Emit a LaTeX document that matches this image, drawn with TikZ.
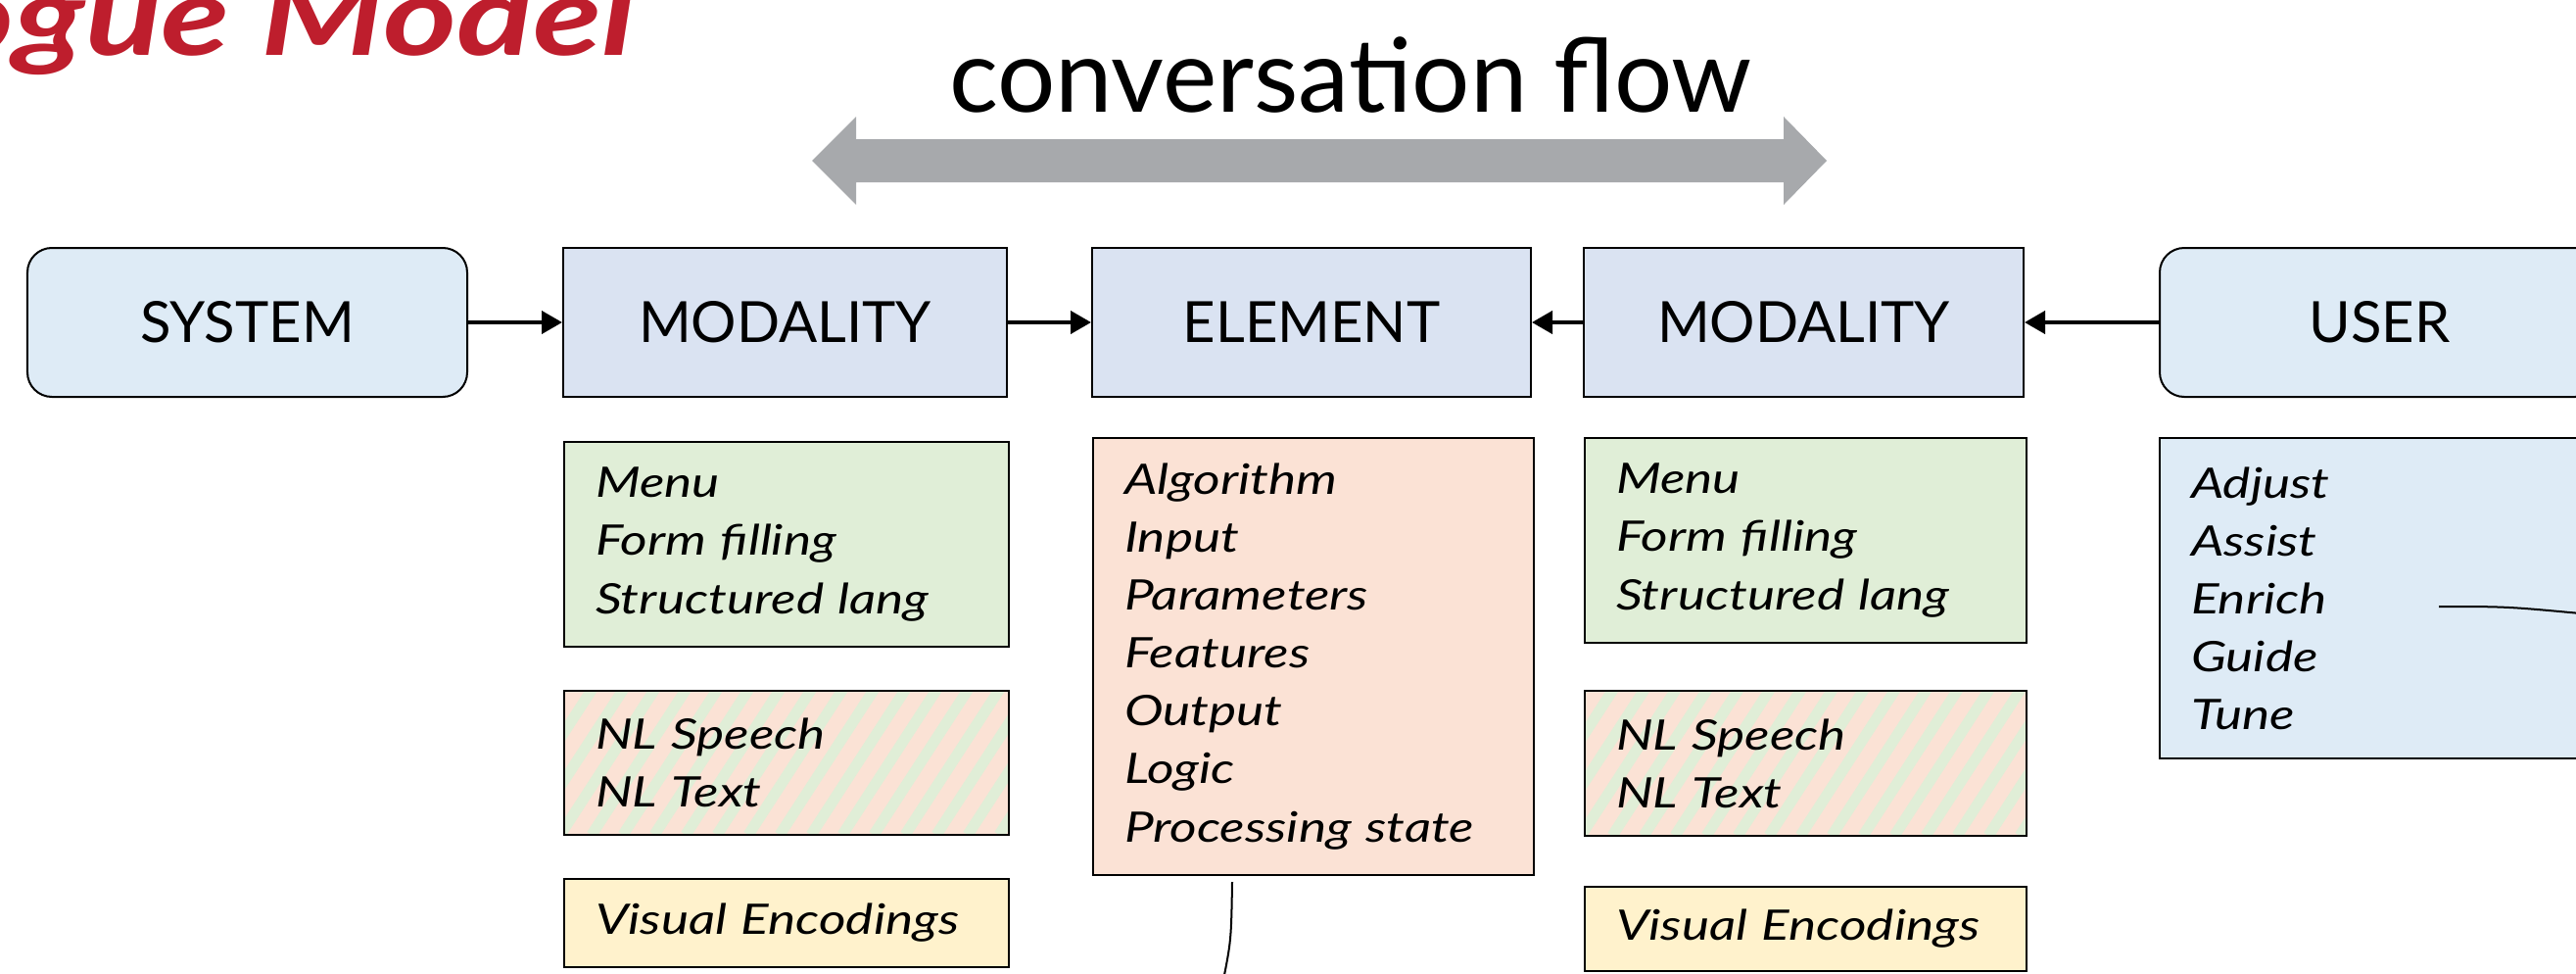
\documentclass[tikz,border=0pt]{standalone}
\usepackage{fontspec}
\setmainfont{Lato}
\newfontfamily\listfont[FakeStretch=1.24]{Lato}
\newfontfamily\titlefont[FakeStretch=1.28]{Lato}
\usetikzlibrary{arrows.meta}

\definecolor{titlered}{RGB}{190,30,45}
\definecolor{flowgray}{RGB}{167,169,172}
\definecolor{endblue}{RGB}{222,235,246}
\definecolor{modblue}{RGB}{218,227,242}
\definecolor{menugreen}{RGB}{224,238,215}
\definecolor{elemred}{RGB}{251,226,213}
\definecolor{visyellow}{RGB}{255,242,204}

\begin{document}
\begin{tikzpicture}[
  endbox/.style={draw, fill=endblue, rounded corners=0.25cm, minimum width=4.49cm, minimum height=1.52cm, inner sep=0pt, line width=0.02cm, font=\fontsize{16.5}{20}\selectfont},
  modbox/.style={draw, fill=modblue, minimum width=4.53cm, minimum height=1.52cm, inner sep=0pt, line width=0.02cm, font=\fontsize{16.5}{20}\selectfont},
  listbox/.style={draw, line width=0.025cm, inner xsep=0.32cm, inner ysep=0pt, align=left, font=\listfont\fontsize{12.2}{16.8}\selectfont\itshape},
  stripes/.style={fill=elemred, path picture={
      \foreach \k in {0,...,18}
        \draw[menugreen, line width=0.11cm] ([xshift=\k*0.32cm-1cm]path picture bounding box.south west) -- ++(57:1.9cm);
    }},
  link/.style={line width=0.04cm, -{Triangle[length=0.21cm,width=0.23cm]}},
  pointer/.style={line width=0.02cm}
]
  \useasboundingbox (0cm,0cm) rectangle (26.3cm,-9.93cm);

  % title and flow arrow
  \node (title) at (6.49cm,-0.56cm) [anchor=base east, inner sep=0pt, text=titlered, font=\titlefont\fontsize{32}{38}\selectfont\bfseries\itshape] {ogue Model};
  \node (flow) at (13.79cm,-1.14cm) [anchor=base, inner sep=0pt, font=\fontsize{29.8}{36}\selectfont] {conversation flow};
  \fill[flowgray] (8.29cm,-1.64cm) -- (8.74cm,-1.19cm) -- (8.74cm,-1.42cm) -- (18.21cm,-1.42cm) -- (18.21cm,-1.19cm) -- (18.65cm,-1.64cm) -- (18.21cm,-2.09cm) -- (18.21cm,-1.86cm) -- (8.74cm,-1.86cm) -- (8.74cm,-2.09cm) -- cycle;

  % main row
  \node (system) at (2.525cm,-3.29cm) [endbox] {SYSTEM};
  \node (modsys) at (8.015cm,-3.29cm) [modbox] {MODALITY};
  \node (element) at (13.39cm,-3.29cm) [modbox, minimum width=4.48cm] {ELEMENT};
  \node (moduser) at (18.415cm,-3.29cm) [modbox, minimum width=4.49cm] {MODALITY};
  \node (user) at (24.295cm,-3.29cm) [endbox] {USER};

  \draw[link] (system) -- (modsys);
  \draw[link] (modsys) -- (element);
  \draw[link] (moduser) -- (element);
  \draw[link] (user) -- (moduser);

  % system side modalities
  \node (menusys) at (8.03cm,-5.555cm) [listbox, fill=menugreen, text width=3.90cm, minimum height=2.09cm] {Menu\\Form filling\\Structured lang};
  \node (nlsys) at (8.03cm,-7.785cm) [listbox, stripes, text width=3.90cm, minimum height=1.47cm] {NL Speech\\NL Text};
  \node (vissys) at (8.03cm,-9.42cm) [listbox, fill=visyellow, text width=3.90cm, minimum height=0.90cm] {Visual Encodings};

  % element parts
  \node (parts) at (13.41cm,-6.70cm) [listbox, fill=elemred, text width=3.86cm, minimum height=4.46cm] {Algorithm\\Input\\Parameters\\Features\\Output\\Logic\\Processing state};

  % user side modalities
  \node (menuuser) at (18.435cm,-5.515cm) [listbox, fill=menugreen, text width=3.87cm, minimum height=2.09cm] {Menu\\Form filling\\Structured lang};
  \node (nluser) at (18.435cm,-7.79cm) [listbox, stripes, text width=3.87cm, minimum height=1.48cm] {NL Speech\\NL Text};
  \node (visuser) at (18.435cm,-9.48cm) [listbox, fill=visyellow, text width=3.87cm, minimum height=0.86cm] {Visual Encodings};

  % user actions
  \node (actions) at (24.295cm,-6.105cm) [listbox, fill=endblue, text width=3.85cm, minimum height=3.27cm] {Adjust\\Assist\\Enrich\\Guide\\Tune};

  % pointers
  \coordinate (enrichend) at (24.90cm,-6.19cm);
  \coordinate (useredge) at (26.45cm,-6.27cm);
  \draw[pointer] (enrichend) .. controls (25.6cm,-6.19cm) .. (useredge);
  \coordinate (partsend) at (12.58cm,-9.00cm);
  \coordinate (partsedge) at (12.48cm,-10.05cm);
  \draw[pointer] (partsend) .. controls (12.57cm,-9.6cm) .. (partsedge);
\end{tikzpicture}
\end{document}
